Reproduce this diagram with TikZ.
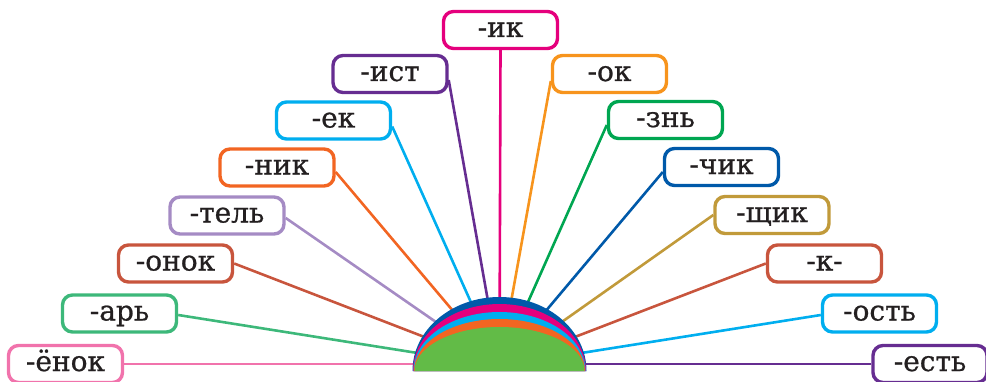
\documentclass[tikz,border=0pt]{standalone}
\usepackage{fontspec}
\setmainfont{DejaVu Serif}[FakeBold=0.8]
\usetikzlibrary{shapes.geometric}
\definecolor{cmagenta}{HTML}{E5007D}
\definecolor{cpurple}{HTML}{662D91}
\definecolor{corange}{HTML}{F7941D}
\definecolor{ccyan}{HTML}{00AEEF}
\definecolor{cgreen}{HTML}{00A651}
\definecolor{cred}{HTML}{F26522}
\definecolor{cblue}{HTML}{0059A9}
\definecolor{clav}{HTML}{A58BC4}
\definecolor{cgold}{HTML}{C19A3A}
\definecolor{cbrick}{HTML}{C8553D}
\definecolor{cmint}{HTML}{3DB87A}
\definecolor{cpink}{HTML}{F173AC}
\definecolor{cleaf}{HTML}{62BB47}
\definecolor{cink}{HTML}{231F20}
\tikzstyle{suffix} = [rectangle, rounded corners=10pt, minimum width=114pt, minimum height=37pt, line width=3.4pt, inner sep=0pt, text height=18pt, text depth=4pt, text centered, fill=white, text=cink, font=\fontsize{28}{29}\selectfont]
\tikzstyle{ray} = [line width=2.6pt]

\begin{document}
\begin{tikzpicture}[x=1pt,y=1pt]
\useasboundingbox (0,0) rectangle (986,381);
\coordinate (c) at (499.5,10);
\coordinate (hub) at (499.5,15);

\node at (500.5,351) (suf1) [suffix, draw=cmagenta] {-ик};
\draw[ray,cmagenta] (suf1.south) -- (hub);

\node at (390,307) (suf2) [suffix, draw=cpurple] {-ист};
\draw[ray,cpurple] ([yshift=-6pt]suf2.east) -- (hub);

\node at (609.5,307) (suf3) [suffix, draw=corange] {-ок};
\draw[ray,corange] ([yshift=-7pt]suf3.west) -- (hub);

\node at (333.5,260.5) (suf4) [suffix, draw=ccyan] {-ек};
\draw[ray,ccyan] ([yshift=-6pt]suf4.east) -- (hub);

\node at (665.5,261) (suf5) [suffix, draw=cgreen] {-знь};
\draw[ray,cgreen] ([yshift=-5pt]suf5.west) -- (hub);

\node at (277,213.5) (suf6) [suffix, draw=cred] {-ник};
\draw[ray,cred] ([yshift=-4.5pt]suf6.east) -- (hub);

\node at (721.5,214) (suf7) [suffix, draw=cblue] {-чик};
\draw[ray,cblue] ([yshift=-5pt]suf7.west) -- (hub);

\node at (227,165.5) (suf8) [suffix, draw=clav] {-тель};
\draw[ray,clav] ([yshift=-2.5pt]suf8.east) -- (hub);

\node at (772,166) (suf9) [suffix, draw=cgold] {-щик};
\draw[ray,cgold] (suf9.west) -- (hub);

\node at (175.5,117.5) (suf10) [suffix, draw=cbrick] {-онок};
\draw[ray,cbrick] (suf10.east) -- (hub);

\node at (824.5,117.5) (suf11) [suffix, draw=cbrick] {-к-};
\draw[ray,cbrick] (suf11.west) -- (hub);

\node at (119.5,67.5) (suf12) [suffix, draw=cmint] {-арь};
\draw[ray,cmint] ([yshift=-1.5pt]suf12.east) -- (hub);

\node at (879.5,67.5) (suf13) [suffix, draw=ccyan] {-ость};
\draw[ray,ccyan] ([yshift=-1.5pt]suf13.west) -- (hub);

\node at (65.5,17) (suf14) [suffix, draw=cpink] {-ёнок};
\draw[ray,cpink] (suf14.east) -- (suf14.east -| c);

\node at (930,17) (suf15) [suffix, draw=cpurple] {-есть};
\draw[ray,cpurple] (suf15.west) -- (suf15.west -| c);

\fill[cblue] (c) ++(-87,0) arc[start angle=180, end angle=0, x radius=87pt, y radius=74pt] -- cycle;
\fill[cmagenta] (c) ++(-86.5,0) arc[start angle=180, end angle=0, x radius=86.5pt, y radius=67pt] -- cycle;
\fill[ccyan] (c) ++(-86,0) arc[start angle=180, end angle=0, x radius=86pt, y radius=59pt] -- cycle;
\fill[cred] (c) ++(-85.5,0) arc[start angle=180, end angle=0, x radius=85.5pt, y radius=52pt] -- cycle;
\fill[cleaf] (c) ++(-85,0) arc[start angle=180, end angle=0, x radius=85pt, y radius=44pt] -- cycle;

\end{tikzpicture}
\end{document}
